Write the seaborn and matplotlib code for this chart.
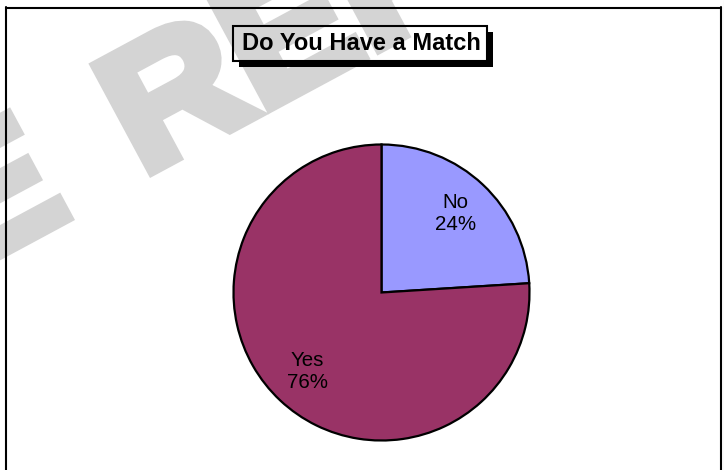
import matplotlib
matplotlib.use("Agg")
import matplotlib.pyplot as plt
import seaborn as sns
import numpy as np
from matplotlib.patches import Rectangle, Polygon, PathPatch
from matplotlib.lines import Line2D
from matplotlib.textpath import TextPath
from matplotlib.font_manager import FontProperties
from matplotlib.transforms import Affine2D

# ---- data ----
categories = ["No", "Yes"]
values = [24, 76]
colors = ["#9999FF", "#993366"]
title = "Do You Have a Match"
watermark_words = ["SAMPLE", "REPORT"]

sns.set_theme(style="white")
plt.rcParams['font.family'] = ['Liberation Sans', 'DejaVu Sans']

W, H = 724, 470
fig = plt.figure(figsize=(W / 100, H / 100), dpi=100)
fig.patch.set_facecolor("white")
ax = fig.add_axes([0, 0, 1, 1])


def Y(r):
    return H - r


wedges, texts, autotexts = ax.pie(
    values, colors=colors, startangle=90, counterclock=False,
    center=(381.5, Y(292.5)), radius=148, frame=True,
    autopct='%1.0f%%', pctdistance=0.73,
    wedgeprops=dict(edgecolor='black', linewidth=1.6),
    textprops=dict(fontsize=14.8, color='black'))
for w in wedges:
    w.set_zorder(3)
for t, name in zip(autotexts, categories):
    t.set_text(f"{name}\n{t.get_text()}")
    t.set_zorder(4)

ax.set_xlim(0, W)
ax.set_ylim(0, H)
ax.set_aspect('equal')
ax.axis('off')

# watermark: heavy bold glyph outlines, rotated
ang = 28.3
u = np.array([np.cos(np.radians(ang)), np.sin(np.radians(ang))])
v = np.array([-u[1], u[0]])
g = 6.0
wm_col = '#d4d4d4'
fp = FontProperties(family='Liberation Sans', weight='bold')
fsz = 100
r_ext = TextPath((0, 0), "R", size=fsz, prop=fp).get_extents()
sy = (130 - 2 * g) / r_ext.y1
sx = (130 - 2 * g) / r_ext.width


def place(word, anchor, align):
    tp = TextPath((0, 0), word, size=fsz, prop=fp)
    e = tp.get_extents()
    x0 = e.x0 if align == 'left' else e.x1
    tr = Affine2D().translate(-x0, 0).scale(sx, sy).rotate_deg(ang).translate(*anchor)
    ax.add_patch(PathPatch(tr.transform_path(tp), facecolor=wm_col, edgecolor=wm_col,
                           linewidth=2 * g * 0.72, joinstyle='miter', zorder=2))


place(watermark_words[0], np.array([75.0, Y(220)]) - g * u + g * v, 'right')
place(watermark_words[1], np.array([150.0, Y(178)]) + g * u + g * v, 'left')

# title box with shadow
bx0, bx1, by0, by1 = 233, 487, 26, 61
ax.add_patch(Rectangle((bx0, Y(by1)), bx1 - bx0, by1 - by0, facecolor='white',
                       edgecolor='none', zorder=1))
sh = 6
ax.add_patch(Polygon([(bx1, Y(by0 + sh)), (bx1 + sh, Y(by0 + sh)), (bx1 + sh, Y(by1 + sh)),
                      (bx0 + sh, Y(by1 + sh)), (bx0 + sh, Y(by1)), (bx1, Y(by1))],
                     closed=True, facecolor='black', edgecolor='none', zorder=5))
ax.add_patch(Rectangle((bx0, Y(by1)), bx1 - bx0, by1 - by0, facecolor='none',
                       edgecolor='black', linewidth=1.5, zorder=6))
ax.text((bx0 + bx1) / 2 + 1.5, Y(43.5), title, ha='center', va='center', fontsize=17,
        fontweight='bold', color='black', zorder=7)

# outer border
lw = 1.5
ax.add_line(Line2D([6, 6], [Y(7), 0], color='black', linewidth=lw, zorder=8))
ax.add_line(Line2D([6, 721], [Y(7.5), Y(7.5)], color='black', linewidth=lw, zorder=8))
ax.add_line(Line2D([721, 721], [Y(7), 0], color='black', linewidth=lw, zorder=8))
ax.add_line(Line2D([723.5, 723.5], [Y(0), 0], color='#c0c0c0', linewidth=0.8, zorder=8))

fig.savefig("out.png", dpi=100, facecolor="white")
